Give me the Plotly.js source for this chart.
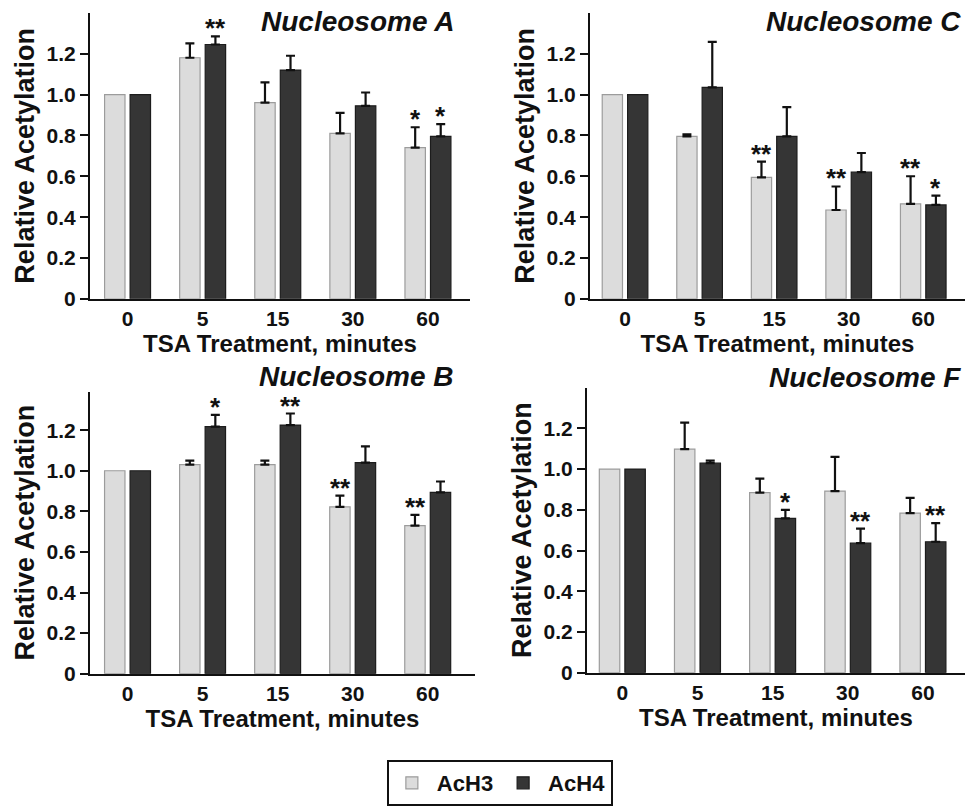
<!DOCTYPE html>
<html>
<head>
<meta charset="utf-8">
<script src="https://cdn.plot.ly/plotly-3.0.1.min.js"></script>
<style>html,body{margin:0;padding:0;background:#fff;}#chart{width:965px;height:806px;}</style>
</head>
<body>
<div id="chart"></div>
<script>
// ---- data ----
const categories = ['0', '5', '15', '30', '60'];

const panelTitles = ['Nucleosome A', 'Nucleosome C', 'Nucleosome B', 'Nucleosome F'];

// Nucleosome A
const A_H3 = [1.00, 1.18, 0.96, 0.81, 0.74];
const A_H3_errTop = [1.00, 1.25, 1.06, 0.91, 0.84];
const A_H4 = [1.00, 1.245, 1.12, 0.945, 0.795];
const A_H4_errTop = [1.00, 1.285, 1.19, 1.01, 0.855];
const A_H3_sig = ['', '', '', '', '*'];
const A_H4_sig = ['', '**', '', '', '*'];

// Nucleosome C
const C_H3 = [1.00, 0.795, 0.595, 0.435, 0.465];
const C_H3_errTop = [1.00, 0.805, 0.672, 0.55, 0.60];
const C_H4 = [1.00, 1.035, 0.795, 0.62, 0.46];
const C_H4_errTop = [1.00, 1.258, 0.938, 0.714, 0.505];
const C_H3_sig = ['', '', '**', '**', '**'];
const C_H4_sig = ['', '', '', '', '*'];

// Nucleosome B
const B_H3 = [1.00, 1.03, 1.03, 0.822, 0.73];
const B_H3_errTop = [1.00, 1.05, 1.05, 0.877, 0.782];
const B_H4 = [1.00, 1.217, 1.225, 1.04, 0.893];
const B_H4_errTop = [1.00, 1.275, 1.282, 1.12, 0.947];
const B_H3_sig = ['', '', '', '**', '**'];
const B_H4_sig = ['', '*', '**', '', ''];

// Nucleosome F
const F_H3 = [1.00, 1.098, 0.884, 0.892, 0.784];
const F_H3_errTop = [1.00, 1.228, 0.953, 1.06, 0.859];
const F_H4 = [1.00, 1.029, 0.758, 0.636, 0.643];
const F_H4_errTop = [1.00, 1.042, 0.80, 0.708, 0.735];
const F_H3_sig = ['', '', '', '', ''];
const F_H4_sig = ['', '', '*', '**', '**'];

const yTickVals = [0, 0.2, 0.4, 0.6, 0.8, 1.0, 1.2];
const yTickText = ['0', '0.2', '0.4', '0.6', '0.8', '1.0', '1.2'];

const seriesNames = ['AcH3', 'AcH4'];

// ---- build ----
const W = 965, H = 806;
const px = x => x / W;
const py = y => 1 - y / H;
const FONT = 'Liberation Sans, Arial, Helvetica, sans-serif';

const panels = [
  {h3: A_H3, h3e: A_H3_errTop, h4: A_H4, h4e: A_H4_errTop, s3: A_H3_sig, s4: A_H4_sig},
  {h3: C_H3, h3e: C_H3_errTop, h4: C_H4, h4e: C_H4_errTop, s3: C_H3_sig, s4: C_H4_sig},
  {h3: B_H3, h3e: B_H3_errTop, h4: B_H4, h4e: B_H4_errTop, s3: B_H3_sig, s4: B_H4_sig},
  {h3: F_H3, h3e: F_H3_errTop, h4: F_H4, h4e: F_H4_errTop, s3: F_H3_sig, s4: F_H4_sig}
];

const geom = [
  {x0: 90, x1: 470, xr: [-0.5, 4.56], yb: 303, yt: 13, yr: [0, 1.4], titleX: 456, titleY: 22},
  {x0: 590, x1: 965, xr: [-0.47, 4.56], yb: 303, yt: 13, yr: [0, 1.4], titleX: 963, titleY: 22},
  {x0: 90, x1: 475, xr: [-0.5, 4.63], yb: 683, yt: 397, yr: [0, 1.39], titleX: 456, titleY: 382},
  {x0: 587, x1: 965, xr: [-0.47, 4.56], yb: 682, yt: 393, yr: [0, 1.4], titleX: 963, titleY: 383}
];

const colors = {
  h3: '#dcdcdc', h3line: '#9c9c9c',
  h4: '#353535', h4line: '#1c1c1c'
};

const traces = [];
const annotations = [];
const layout = {
  width: W, height: H,
  margin: {l: 0, r: 0, t: 0, b: 0},
  paper_bgcolor: '#ffffff', plot_bgcolor: '#ffffff',
  barmode: 'group', bargap: 0.32, bargroupgap: 0.2,
  font: {family: FONT, color: '#111111'},
  showlegend: true,
  legend: {
    orientation: 'h', x: 0.518, xanchor: 'center', y: py(771), yanchor: 'top',
    bordercolor: '#111111', borderwidth: 2, bgcolor: '#ffffff',
    font: {family: FONT, size: 22, color: '#111111', weight: 'bold'},
    itemwidth: 40, tracegroupgap: 0
  },
  annotations: annotations
};

panels.forEach((p, i) => {
  const g = geom[i];
  const n = i === 0 ? '' : String(i + 1);
  const xa = 'x' + n, ya = 'y' + n;
  const errPlus = (vals, tops) => tops.map((t, k) => (t - vals[k] > 0.001 ? t - vals[k] : NaN));
  const errMinus = plus => plus.map(v => (isNaN(v) ? NaN : 0));
  const e3 = errPlus(p.h3, p.h3e), e4 = errPlus(p.h4, p.h4e);
  traces.push({
    type: 'bar', name: seriesNames[0], x: categories, y: p.h3,
    xaxis: xa, yaxis: ya, legendgroup: 'h3', showlegend: i === 0,
    marker: {color: colors.h3, line: {color: colors.h3line, width: 1.2}},
    error_y: {type: 'data', symmetric: false, array: e3, arrayminus: errMinus(e3),
              color: '#111111', thickness: 2.2, width: 4.5}
  });
  traces.push({
    type: 'bar', name: seriesNames[1], x: categories, y: p.h4,
    xaxis: xa, yaxis: ya, legendgroup: 'h4', showlegend: i === 0,
    marker: {color: colors.h4, line: {color: colors.h4line, width: 1.2}},
    error_y: {type: 'data', symmetric: false, array: e4, arrayminus: errMinus(e4),
              color: '#111111', thickness: 2.2, width: 4.5}
  });

  layout['xaxis' + n] = {
    domain: [px(g.x0), px(g.x1)], range: g.xr, type: 'category', anchor: ya,
    showline: true, linecolor: '#111111', linewidth: 2, ticks: '', showgrid: false, zeroline: false,
    tickfont: {family: FONT, size: 21, color: '#111111', weight: 'bold'},
    title: {text: 'TSA Treatment, minutes', font: {family: FONT, size: 24, color: '#111111', weight: 'bold'}, standoff: 4},
    fixedrange: true
  };
  layout['yaxis' + n] = {
    domain: [py(g.yb), py(g.yt)], range: g.yr, anchor: xa,
    showline: true, linecolor: '#111111', linewidth: 2, ticks: 'outside', ticklen: 8, tickwidth: 2, tickcolor: '#111111',
    tickvals: yTickVals, ticktext: yTickText, showgrid: false, zeroline: false,
    tickfont: {family: FONT, size: 21, color: '#111111', weight: 'bold'},
    title: {text: 'Relative Acetylation', font: {family: FONT, size: 27, color: '#111111', weight: 'bold'}, standoff: 4},
    fixedrange: true
  };

  annotations.push({
    xref: 'paper', yref: 'paper', x: px(g.titleX), y: py(g.titleY), xanchor: 'right', yanchor: 'middle',
    text: '<b><i>' + panelTitles[i] + '</i></b>', showarrow: false,
    font: {family: FONT, size: 28, color: '#111111'}
  });

  const addSig = (sig, tops, shift) => {
    sig.forEach((s, k) => {
      if (!s) return;
      annotations.push({
        xref: xa, yref: ya, x: k, y: tops[k], xshift: shift, yshift: -9,
        xanchor: 'center', yanchor: 'bottom', text: '<b>' + s + '</b>', showarrow: false,
        font: {family: FONT, size: 26, color: '#111111'}
      });
    });
  };
  addSig(p.s3, p.h3e, -12.5);
  addSig(p.s4, p.h4e, 12.5);
});

Plotly.newPlot('chart', traces, layout, {displayModeBar: false, staticPlot: true});
</script>
</body>
</html>
